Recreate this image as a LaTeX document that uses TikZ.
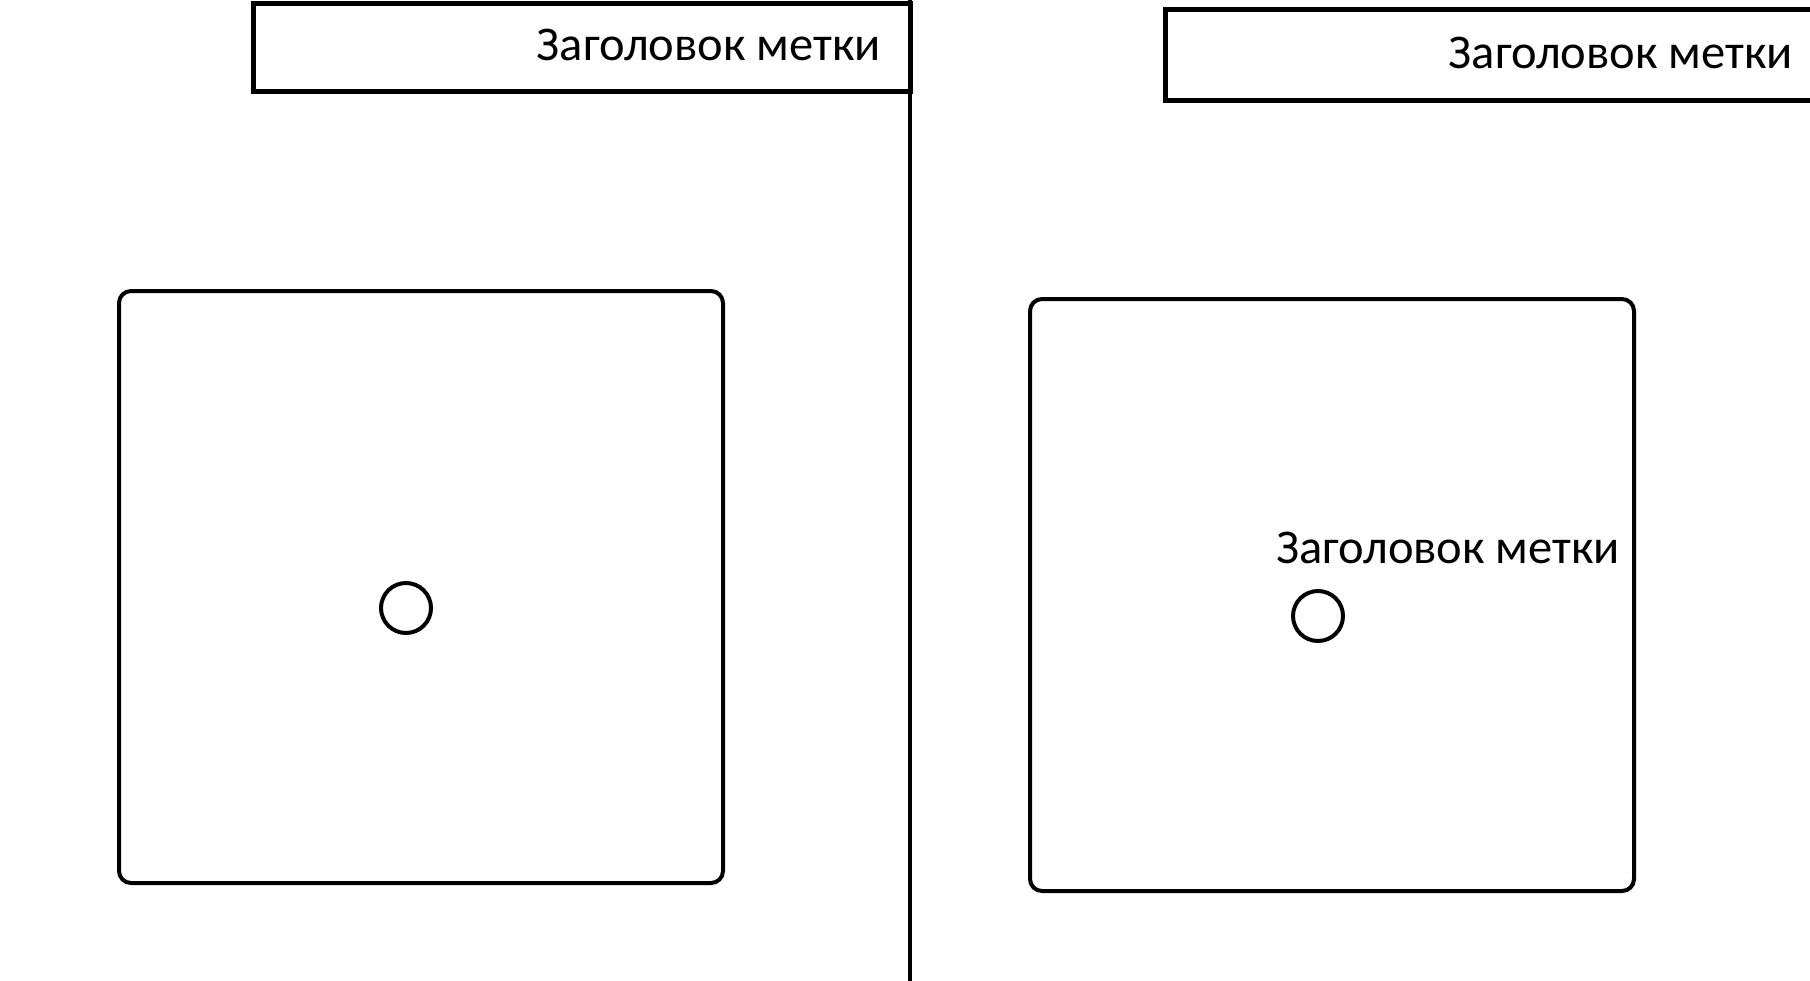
\documentclass[tikz,border=0pt]{standalone}
\usepackage{fontspec}
\setmainfont{Carlito}
\begin{document}
\begin{tikzpicture}[x=1pt,y=-1pt,
  header/.style={draw, line width=5pt, inner sep=0pt, outer sep=0pt, anchor=north west},
  panel/.style={draw, line width=4pt, rounded corners=12pt, inner sep=0pt},
  pin/.style={draw, circle, line width=4pt, minimum size=50pt, inner sep=0pt},
  caption/.style={font=\fontsize{48.5}{56}\selectfont, inner sep=0pt}]
\useasboundingbox (0,0) rectangle (1810,980);
\clip (0,0) rectangle (1810,980);
% left half
\node[header, minimum width=657pt, minimum height=88pt] (headL) at (253,3) {};
\node[caption, anchor=base east] (titleL) at (881,60) {Заголовок метки};
\coordinate (sepT) at (910,0);
\coordinate (sepB) at (910,985);
\draw[line width=4.5pt] (sepT) -- (sepB);
\node[panel, minimum width=604pt, minimum height=592pt] (boxL) at (421,587) {};
\node[pin] (pinL) at (406,608) {};
% right half
\node[header, minimum width=700pt, minimum height=91pt] (headR) at (1165,9) {};
\node[caption, anchor=base east] (titleR) at (1793,68) {Заголовок метки};
\node[panel, minimum width=604pt, minimum height=592pt] (boxR) at (1332,595) {};
\node[pin] (pinR) at (1318,616) {};
\node[caption, anchor=base west] (labelR) at (1276,563) {Заголовок метки};
\end{tikzpicture}
\end{document}
